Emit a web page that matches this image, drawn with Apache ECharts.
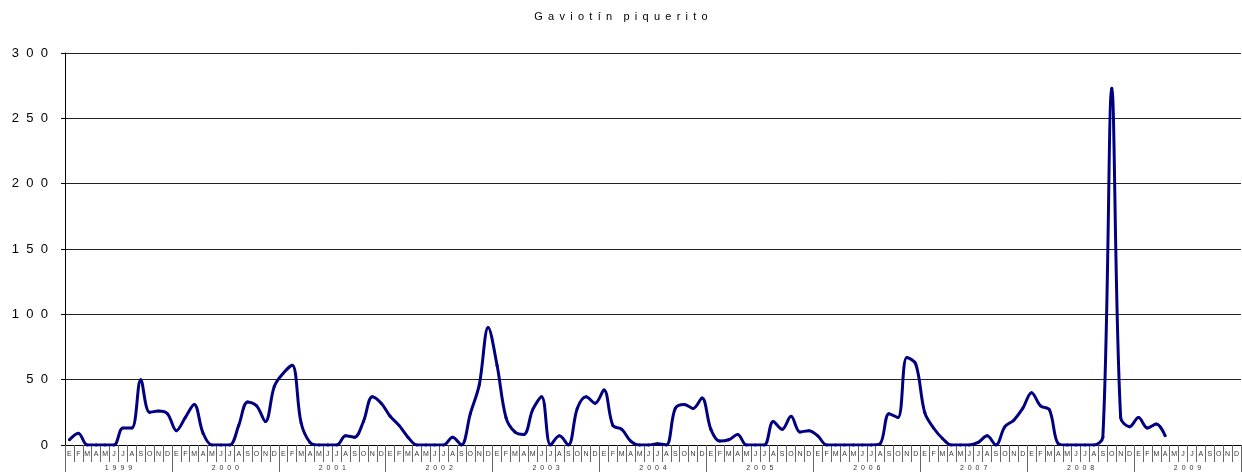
<!DOCTYPE html>
<html>
<head>
<meta charset="utf-8">
<script src="https://cdn.jsdelivr.net/npm/echarts@6/dist/echarts.min.js"></script>
<style>
  html, body { margin: 0; padding: 0; background: #fff; }
  #chart { width: 1242px; height: 472px; }
</style>
</head>
<body>
<div id="chart"></div>
<script>
// meses (E = enero ...)
var months = ["E", "F", "M", "A", "M", "J", "J", "A", "S", "O", "N", "D"];
var years = ["1999", "2000", "2001", "2002", "2003", "2004", "2005", "2006", "2007", "2008", "2009"];
var yTicks = [0, 50, 100, 150, 200, 250, 300];

// conteos mensuales por año
var c1999 = [4, 9, 0, 0, 0, 0, 13, 13, 50, 25, 26, 24];
var c2000 = [11, 21, 31, 9, 0, 0, 0, 15, 33, 30, 18, 45];
var c2001 = [55, 61, 17, 2, 0, 0, 0, 7, 6, 18, 37, 32];
var c2002 = [22, 15, 6, 0, 0, 0, 0, 6, 0, 24, 46, 90];
var c2003 = [61, 21, 10, 8, 27, 37, 0, 7, 0, 28, 37, 32];
var c2004 = [42, 15, 12, 3, 0, 0, 1, 0, 28, 31, 28, 36];
var c2005 = [12, 3, 4, 8, 0, 0, 0, 18, 12, 22, 10, 11];
var c2006 = [7, 0, 0, 0, 0, 0, 0, 1, 24, 21, 67, 62];
var c2007 = [25, 13, 5, 0, 0, 0, 2, 7, 0, 14, 19, 28];
var c2008 = [40, 30, 27, 1, 0, 0, 0, 0, 6, 273, 21, 14];
var c2009 = [21, 13, 16, 7, null, null, null, null, null, null, null, null];

var monthCats = [];
years.forEach(function (y) {
  months.forEach(function (m) { monthCats.push(m); });
});
var values = [].concat(c1999, c2000, c2001, c2002, c2003, c2004, c2005, c2006, c2007, c2008, c2009);

function spaced(s, sep) { return String(s).split("").join(sep || " "); }

var chart = echarts.init(document.getElementById("chart"));
chart.setOption({
  animation: false,
  backgroundColor: "#fff",
  title: {
    text: spaced("Gaviotín", " \u2009") + "   \u2009" + spaced("piquerito", " \u2009"),
    left: "center",
    top: 6,
    textStyle: {
      fontFamily: "Liberation Sans",
      fontSize: 11,
      fontWeight: "normal",
      color: "#000"
    }
  },
  grid: { left: 65, right: 0, top: 53, bottom: 27 },
  xAxis: [
    {
      type: "category",
      data: monthCats,
      position: "bottom",
      offset: 0,
      axisLine: { show: true, lineStyle: { color: "#000", width: 1 } },
      axisTick: { show: true, interval: 0, length: 17, lineStyle: { color: "#666" } },
      axisLabel: {
        interval: 0,
        margin: 6,
        fontSize: 7,
        fontFamily: "Liberation Sans",
        color: "#333"
      }
    },
    {
      type: "category",
      data: years,
      position: "bottom",
      offset: 0,
      axisLine: { show: false },
      axisTick: { show: true, length: 27, lineStyle: { color: "#666" } },
      axisLabel: {
        margin: 20,
        fontSize: 7,
        fontFamily: "Liberation Sans",
        color: "#333",
        formatter: function (v) { return spaced(v, "  "); }
      }
    }
  ],
  yAxis: {
    type: "value",
    min: yTicks[0],
    max: yTicks[yTicks.length - 1],
    interval: 50,
    axisLine: { show: true, lineStyle: { color: "#000" } },
    axisTick: { show: true, length: 4, lineStyle: { color: "#000" } },
    axisLabel: {
      margin: 17,
      fontSize: 13,
      fontFamily: "Liberation Sans",
      color: "#000",
      formatter: function (v) { return spaced(v, "  "); }
    },
    splitLine: { lineStyle: { color: "#222", width: 1 } }
  },
  series: [
    {
      type: "line",
      xAxisIndex: 0,
      data: values,
      smooth: 0.35,
      symbol: "circle",
      symbolSize: 3,
      connectNulls: false,
      lineStyle: { color: "#000080", width: 3 },
      itemStyle: { color: "#000080" }
    }
  ]
});
</script>
</body>
</html>
